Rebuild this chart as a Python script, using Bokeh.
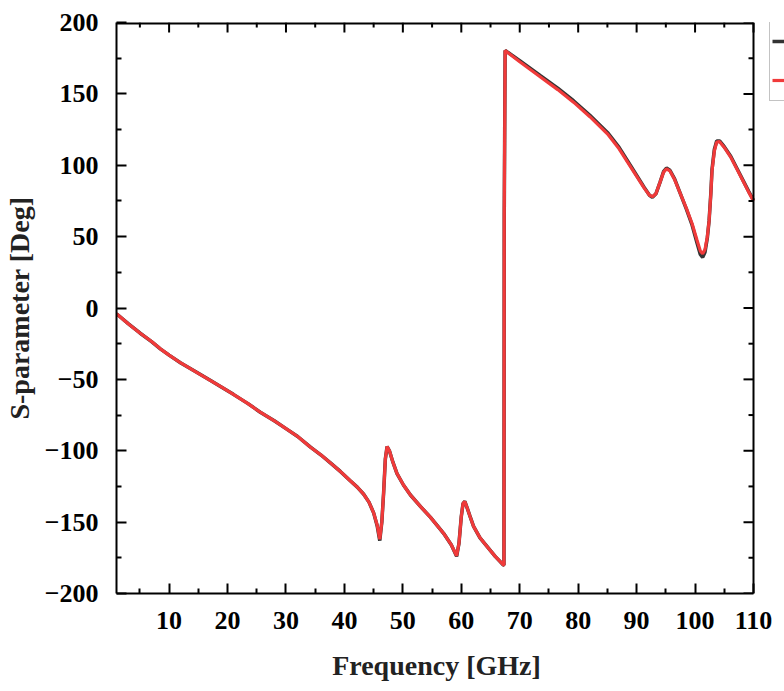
import math
from bokeh.plotting import figure
from bokeh.models import FixedTicker, Range1d, Legend, LegendItem
from bokeh.embed import file_html
from bokeh.resources import INLINE

# ---- data ----
freq = [1, 3, 5, 7, 8.5, 10, 12, 14.5, 17.1, 19, 21, 23.5, 25.6, 28, 30, 32, 34.2, 36,
        37.6, 39.3, 41, 42.2, 43.3, 44.2, 45.0, 45.6, 46.05, 46.4, 46.7, 47.0, 47.3,
        47.7, 48.3, 49.0, 50.1, 51.3, 53, 54.7, 56, 57.0, 58.3, 59.2, 59.6, 60.0, 60.3,
        60.6, 61.0, 61.5, 62.1, 63.2, 64.4, 65.8, 67.2, 67.3, 67.35, 67.5, 70, 73.6,
        76.5, 79.2, 82, 85, 87, 89, 90.1, 91.3, 92.2, 92.7, 93.3, 94.0, 94.6, 95.1,
        95.7, 96.5, 97.5, 98.5, 99.5, 100.3, 100.9, 101.3, 101.7, 102.1, 102.4, 102.7,
        102.9, 103.3, 103.7, 104.2, 105, 106.1, 107.2, 108.3, 109.2, 110]

s_red = [-4, -11, -17.5, -23.5, -28.6, -33, -38.5, -44.5, -50.8, -55.5, -60.5, -67, -73,
         -79, -84.5, -90, -97.5, -103, -108.5, -114.5, -121, -125.5, -130.5, -136,
         -143.5, -152, -162, -150, -130, -106, -97, -100, -108, -116, -124, -131, -139,
         -146.5, -153, -158, -166, -173.5, -165, -146, -137, -135.5, -140, -146, -153,
         -161, -167, -174, -180, -180, 66, 180.4, 172.5, 161.7, 153, 144.2, 134, 122,
         111.5, 98.7, 91.7, 84, 79, 78, 80, 88, 95, 97.5, 96, 90, 80, 70, 59, 48, 40, 38,
         41, 50, 61, 80, 96, 110, 116.2, 116.5, 112.5, 105.7, 97, 88.2, 81, 75]

s_black = [-4, -11, -17.5, -23.5, -28.6, -33, -38.5, -44.5, -50.8, -55.5, -60.5, -67, -73,
           -79, -84.5, -90, -97.5, -103, -108.5, -114.5, -121, -125.5, -130.5, -136,
           -143.5, -152.5, -163, -150, -130, -106, -97, -100, -108, -116, -124, -131,
           -139, -146.5, -153, -158, -166, -174, -165, -146, -137, -135.5, -140, -146,
           -153, -161, -167, -174, -180, -180, 66, 180.4, 173.3, 162.6, 154, 145.2, 135,
           123, 112.5, 99.5, 92.3, 84.5, 79, 77.5, 80, 88, 95.5, 98, 96.5, 90.5, 80, 69.5,
           58, 46, 37.5, 35.5, 39, 49, 61, 80.5, 97, 111, 117, 117, 113, 106.3, 97.5,
           88.7, 81.5, 75.5]

x_ticks = [10, 20, 30, 40, 50, 60, 70, 80, 90, 100, 110]
y_ticks = [-200, -150, -100, -50, 0, 50, 100, 150, 200]
x_minor = [5, 15, 25, 35, 45, 55, 65, 75, 85, 95, 105]
y_minor = [-175, -125, -75, -25, 25, 75, 125, 175]
x_lim = [1, 110]
y_lim = [-200, 200]

BLACK_COL = "#333333"
RED_COL = "#f03a3a"
FONT = "Liberation Serif"

# layout: the axes box spans x_lim; the drawing area runs on to the window edge so
# the (cut-off) legend box to the right of the axes can be shown
W, H = 784, 691
LEFT, TOP, BOTTOM = 116, 22, 98
BOX_W = 637                                   # pixel width of the axes box
BOX_H = H - TOP - BOTTOM
x_end = x_lim[0] + (W - LEFT) * (x_lim[1] - x_lim[0]) / BOX_W

p = figure(width=W, height=H, output_backend="svg", toolbar_location=None,
           x_range=Range1d(x_lim[0], x_end), y_range=Range1d(*y_lim),
           min_border_left=LEFT, min_border_right=0, min_border_top=TOP,
           min_border_bottom=BOTTOM)
p.grid.visible = False
p.outline_line_color = None
p.background_fill_color = "white"
p.border_fill_color = "white"

rb = p.line(freq, s_black, line_color=BLACK_COL, line_width=3.5)
rr = p.line(freq, s_red, line_color=RED_COL, line_width=3.2)

for ax, ticks, minor in ((p.xaxis[0], x_ticks, x_minor), (p.yaxis[0], y_ticks, y_minor)):
    ax.ticker = FixedTicker(ticks=ticks, minor_ticks=minor)
    ax.axis_line_width = 2
    ax.axis_line_color = "black"
    ax.major_tick_in = 10
    ax.major_tick_out = 0
    ax.minor_tick_in = 5
    ax.minor_tick_out = 0
    ax.major_tick_line_width = 2
    ax.minor_tick_line_width = 2
    ax.major_label_text_font = FONT
    ax.major_label_text_font_style = "bold"
    ax.major_label_text_font_size = "26px"
    ax.major_label_text_color = "black"
    ax.axis_label_text_font = FONT
    ax.axis_label_text_font_style = "bold"
    ax.axis_label_text_font_size = "28px"
    ax.axis_label_text_color = "#222222"

p.xaxis[0].bounds = tuple(x_lim)
# trailing no-break spaces keep the title centred under the axes box, not the canvas
p.xaxis[0].axis_label = "Frequency [GHz]" + "\u00a0" * 4
p.yaxis[0].axis_label = "S-parameter [Deg]"
p.xaxis[0].major_label_standoff = 18
p.yaxis[0].major_label_standoff = 18
p.xaxis[0].axis_label_standoff = 18
p.yaxis[0].axis_label_standoff = 7

# top and right edges of the axes box
p.line(x=x_lim, y=[y_lim[1], y_lim[1]], line_color="black", line_width=4)
p.line(x=[x_lim[1], x_lim[1]], y=y_lim, line_color="black", line_width=2)

# mirrored inward ticks on the top and right edges
p.ray(x=x_ticks, y=[y_lim[1]] * len(x_ticks), length=10, angle=-math.pi / 2,
      length_units="screen", line_color="black", line_width=2)
p.ray(x=x_minor, y=[y_lim[1]] * len(x_minor), length=5, angle=-math.pi / 2,
      length_units="screen", line_color="black", line_width=2)
p.ray(x=[x_lim[1]] * len(y_ticks), y=y_ticks, length=10, angle=math.pi,
      length_units="screen", line_color="black", line_width=2)
p.ray(x=[x_lim[1]] * len(y_minor), y=y_minor, length=5, angle=math.pi,
      length_units="screen", line_color="black", line_width=2)

# legend box, cut by the window edge as in the reference
legend = Legend(items=[LegendItem(label=" ", renderers=[rb]),
                       LegendItem(label=" ", renderers=[rr])],
                location=(BOX_W + 16, BOX_H - 79), orientation="vertical")
legend.padding = 2
legend.margin = 0
legend.spacing = 3
legend.glyph_height = 36
legend.label_height = 36
legend.glyph_width = 30
legend.label_standoff = 5
legend.border_line_color = "#888888"
legend.border_line_width = 1.5
legend.label_text_font = FONT
legend.label_text_font_size = "10px"
p.add_layout(legend, "center")

open("out.html", "w").write(file_html(p, INLINE))
